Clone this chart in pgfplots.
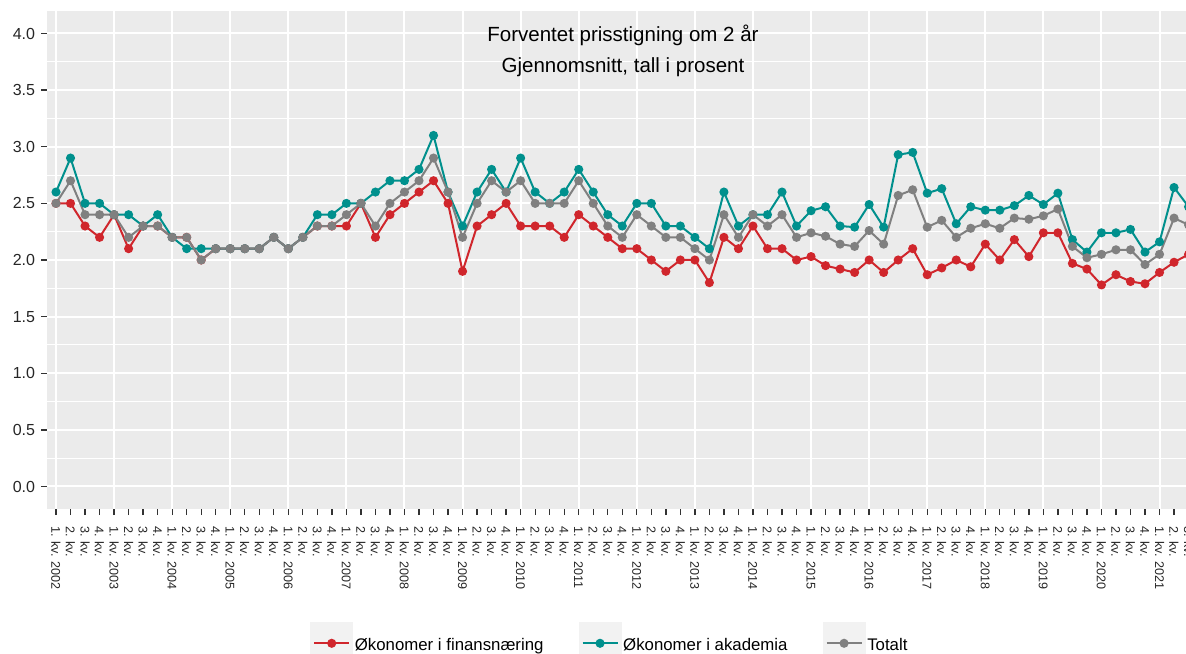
\documentclass[border=0pt]{standalone}
\usepackage{fontspec}
\setmainfont{Liberation Sans}
\usepackage{pgfplots}
\usepackage{pgfplotstable}
\pgfplotsset{compat=1.18}
\definecolor{cred}{HTML}{D0262C}
\definecolor{cteal}{HTML}{00908D}
\definecolor{cgrey}{HTML}{808080}
\definecolor{panel}{HTML}{EBEBEB}
\definecolor{keybg}{HTML}{F2F2F2}
\pgfplotstableread{
idx red teal grey
0 2.5 2.6 2.5
1 2.5 2.9 2.7
2 2.3 2.5 2.4
3 2.2 2.5 2.4
4 2.4 2.4 2.4
5 2.1 2.4 2.2
6 2.3 2.3 2.3
7 2.3 2.4 2.3
8 2.2 2.2 2.2
9 2.2 2.1 2.2
10 2.0 2.1 2.0
11 2.1 2.1 2.1
12 2.1 2.1 2.1
13 2.1 2.1 2.1
14 2.1 2.1 2.1
15 2.2 2.2 2.2
16 2.1 2.1 2.1
17 2.2 2.2 2.2
18 2.3 2.4 2.3
19 2.3 2.4 2.3
20 2.3 2.5 2.4
21 2.5 2.5 2.5
22 2.2 2.6 2.3
23 2.4 2.7 2.5
24 2.5 2.7 2.6
25 2.6 2.8 2.7
26 2.7 3.1 2.9
27 2.5 2.6 2.6
28 1.9 2.3 2.2
29 2.3 2.6 2.5
30 2.4 2.8 2.7
31 2.5 2.6 2.6
32 2.3 2.9 2.7
33 2.3 2.6 2.5
34 2.3 2.5 2.5
35 2.2 2.6 2.5
36 2.4 2.8 2.7
37 2.3 2.6 2.5
38 2.2 2.4 2.3
39 2.1 2.3 2.2
40 2.1 2.5 2.4
41 2.0 2.5 2.3
42 1.9 2.3 2.2
43 2.0 2.3 2.2
44 2.0 2.2 2.1
45 1.8 2.1 2.0
46 2.2 2.6 2.4
47 2.1 2.3 2.2
48 2.3 2.4 2.4
49 2.1 2.4 2.3
50 2.1 2.6 2.4
51 2.0 2.3 2.2
52 2.03 2.435 2.24
53 1.95 2.47 2.21
54 1.92 2.30 2.14
55 1.89 2.29 2.12
56 2.00 2.49 2.26
57 1.89 2.29 2.14
58 2.00 2.93 2.57
59 2.10 2.95 2.62
60 1.87 2.59 2.29
61 1.93 2.63 2.35
62 2.00 2.32 2.20
63 1.94 2.47 2.28
64 2.14 2.44 2.32
65 2.00 2.44 2.28
66 2.18 2.48 2.37
67 2.03 2.57 2.36
68 2.24 2.49 2.39
69 2.24 2.59 2.45
70 1.97 2.18 2.12
71 1.92 2.07 2.02
72 1.78 2.24 2.05
73 1.87 2.24 2.09
74 1.81 2.27 2.09
75 1.79 2.07 1.96
76 1.89 2.16 2.05
77 1.98 2.64 2.37
78 2.05 2.47 2.31
}\datatable
\begin{document}
\begin{tikzpicture}
\begin{axis}[
  at={(47.29bp,144.85bp)}, anchor=south west,
  scale only axis,
  x=14.52bp, y=113.25bp,
  xmin=-0.6, xmax=78.6, ymin=-0.2, ymax=4.2,
  axis background/.style={fill=panel},
  axis line style={draw=none},
  tick align=outside, tick pos=left,
  major tick length=6bp, minor tick length=0pt,
  major tick style={line width=1.3bp, color=black!80},
  ytick={0,0.5,...,4.0},
  minor ytick={0.25,0.75,...,3.75},
  ymajorgrids, yminorgrids,
  major grid style={white, line width=2bp},
  minor grid style={white, line width=1bp},
  xtick={0,...,78},
  xticklabels={1. kv. 2002,2. kv.,3. kv.,4. kv.,1. kv. 2003,2. kv.,3. kv.,4. kv.,1. kv. 2004,2. kv.,3. kv.,4. kv.,1. kv. 2005,2. kv.,3. kv.,4. kv.,1. kv. 2006,2. kv.,3. kv.,4. kv.,1. kv. 2007,2. kv.,3. kv.,4. kv.,1. kv. 2008,2. kv.,3. kv.,4. kv.,1. kv. 2009,2. kv.,3. kv.,4. kv.,1. kv. 2010,2. kv.,3. kv.,4. kv.,1. kv. 2011,2. kv.,3. kv.,4. kv.,1. kv. 2012,2. kv.,3. kv.,4. kv.,1. kv. 2013,2. kv.,3. kv.,4. kv.,1. kv. 2014,2. kv.,3. kv.,4. kv.,1. kv. 2015,2. kv.,3. kv.,4. kv.,1. kv. 2016,2. kv.,3. kv.,4. kv.,1. kv. 2017,2. kv.,3. kv.,4. kv.,1. kv. 2018,2. kv.,3. kv.,4. kv.,1. kv. 2019,2. kv.,3. kv.,4. kv.,1. kv. 2020,2. kv.,3. kv.,4. kv.,1. kv. 2021,2. kv.,3. kv.},
  extra x ticks={0,4,...,76},
  extra x tick labels={},
  extra x tick style={xmajorgrids=true, major tick length=0pt},
  xticklabel shift=11bp,
  yticklabel shift=6bp,
  xticklabel style={rotate=-90, anchor=west, inner sep=0pt, font=\fontsize{12.6bp}{14bp}\selectfont, text=black!85},
  yticklabel style={inner sep=0pt, font=\fontsize{16bp}{18bp}\selectfont, text=black!85},
  /pgf/number format/assume math mode=true,
  yticklabel={\pgfmathprintnumber[fixed,fixed zerofill,precision=1]{\tick}},
  legend columns=3,
  legend style={at={(0.22845,-0.26921)}, anchor=west, draw=none, fill=none, inner sep=0pt,
    font=\fontsize{16.8bp}{19bp}\selectfont,
    cells={anchor=base west},
    nodes={inner sep=0pt, text depth=0pt},
    /tikz/every odd column/.style={column sep=1.7bp},
    /tikz/every even column/.style={column sep=35bp}},
  legend image code/.code={
    \fill[keybg] (0bp,-13.3bp) rectangle (41bp,26.7bp);
    \draw[mark repeat=2, mark phase=2, #1] plot coordinates {(3bp,6.7bp) (20.5bp,6.7bp) (38bp,6.7bp)};
  },
  every axis plot/.append style={line width=2bp, mark=*, mark size=3.5bp, mark options={solid}},
]
\addplot[cred, mark options={fill=cred, draw=cred}] table[x=idx, y=red] {\datatable};
\addlegendentry{Økonomer i finansnæring}
\addplot[cteal, mark options={fill=cteal, draw=cteal}] table[x=idx, y=teal] {\datatable};
\addlegendentry{Økonomer i akademia}
\addplot[cgrey, mark options={fill=cgrey, draw=cgrey}] table[x=idx, y=grey] {\datatable};
\addlegendentry{Totalt}
\end{axis}
\node[anchor=base, font=\fontsize{20.5bp}{24bp}\selectfont] at (623bp,612.3bp) {Forventet prisstigning om 2 år};
\node[anchor=base, font=\fontsize{20.5bp}{24bp}\selectfont] at (623bp,581.0bp) {Gjennomsnitt, tall i prosent};
\pgfresetboundingbox
\useasboundingbox (0,0) rectangle (1186bp,654bp);
\end{tikzpicture}
\end{document}
